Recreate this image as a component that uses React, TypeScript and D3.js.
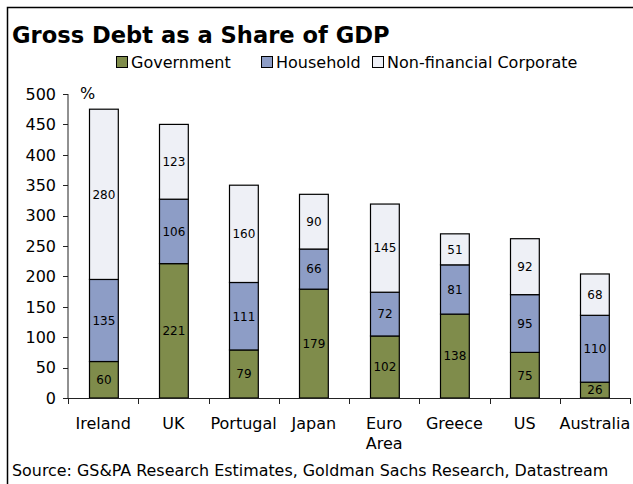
import React from "react";
import * as d3 from "d3";

const categories = ["Ireland", "UK", "Portugal", "Japan", "Euro\nArea", "Greece", "US", "Australia"];
const government = [60, 221, 79, 179, 102, 138, 75, 26];
const household = [135, 106, 111, 66, 72, 81, 95, 110];
const corporate = [280, 123, 160, 90, 145, 51, 92, 68];
const seriesNames = ["Government", "Household", "Non-financial Corporate"];
const yTicks = [0, 50, 100, 150, 200, 250, 300, 350, 400, 450, 500];

const colors = ["#7f8c4b", "#8d9dc6", "#eef0f6"];
const FONT = "'DejaVu Sans', Verdana, sans-serif";

export default function App() {
  const W = 633, H = 484;
  const left = 68, right = 630, top = 94, bottom = 398;

  const x = d3.scaleBand<number>().domain(d3.range(categories.length)).range([left, right]).paddingInner(0.59).paddingOuter(0.295);
  const y = d3.scaleLinear().domain([0, 500]).range([bottom, top]);

  const rows = categories.map((c, i) => ({ i, Government: government[i], Household: household[i], "Non-financial Corporate": corporate[i] }));
  const stacked = d3.stack<any>().keys(seriesNames)(rows);
  const step = (right - left) / categories.length;

  return (
    <svg width={W} height={H} style={{ position: "absolute", left: 0, top: 0, background: "#fff" }} fontFamily={FONT}>
      <rect x={7.5} y={7.5} width={700} height={700} fill="none" stroke="#000" strokeWidth={1.5} />
      <text x={12} y={43} fontSize={22.6} fontWeight="bold" fill="#000">Gross Debt as a Share of GDP</text>

      {/* legend */}
      {(() => {
        let lx = 116;
        return seriesNames.map((n, k) => {
          const g = (
            <g key={n}>
              <rect x={lx + 0.5} y={56.5} width={11} height={11} fill={colors[k]} stroke="#000" strokeWidth={1} />
              <text x={lx + 15} y={68} fontSize={16} fill="#000">{n}</text>
            </g>
          );
          lx += [145, 111, 0][k];
          return g;
        });
      })()}

      {/* y axis */}
      <line x1={left} x2={left} y1={top} y2={bottom} stroke="#222" />
      {yTicks.map(t => (
        <g key={t}>
          <line x1={left - 5} x2={left} y1={Math.round(y(t)) + 0.5} y2={Math.round(y(t)) + 0.5} stroke="#222" />
          <text x={56} y={y(t)} dy="0.36em" textAnchor="end" fontSize={16} fill="#000">{t}</text>
        </g>
      ))}
      <text x={80} y={99} fontSize={16} fill="#000">%</text>

      {/* bars */}
      {stacked.map((s, k) => (
        <g key={s.key}>
          {s.map((d, i) => {
            const x0 = Math.round(x(i)!) + 0.5;
            const y0 = y(d[1]), y1 = y(d[0]);
            return (
              <g key={i}>
                <rect x={x0} y={y0} width={x.bandwidth()} height={y1 - y0} fill={colors[k]} stroke="#000" strokeWidth={1.2} />
                <text x={x0 + x.bandwidth() / 2} y={(y0 + y1) / 2} dy="0.36em" textAnchor="middle" fontSize={12} fill="#000">
                  {d[1] - d[0]}
                </text>
              </g>
            );
          })}
        </g>
      ))}

      {/* x axis */}
      <line x1={left} x2={right} y1={bottom + 0.5} y2={bottom + 0.5} stroke="#222" />
      {d3.range(categories.length + 1).map(i => {
        const tx = Math.round(left + i * step) + 0.5;
        return <line key={i} x1={tx} x2={tx} y1={bottom} y2={bottom + 6} stroke="#222" />;
      })}
      {categories.map((c, i) => (
        <text key={c} x={x(i)! + x.bandwidth() / 2} y={429} textAnchor="middle" fontSize={16} fill="#000">
          {c.split("\n").map((line, j) => (
            <tspan key={j} x={x(i)! + x.bandwidth() / 2} dy={j === 0 ? 0 : 20}>{line}</tspan>
          ))}
        </text>
      ))}

      <text x={12} y={476} fontSize={15.9} fill="#000">Source: GS&amp;PA Research Estimates, Goldman Sachs Research, Datastream</text>
    </svg>
  );
}
